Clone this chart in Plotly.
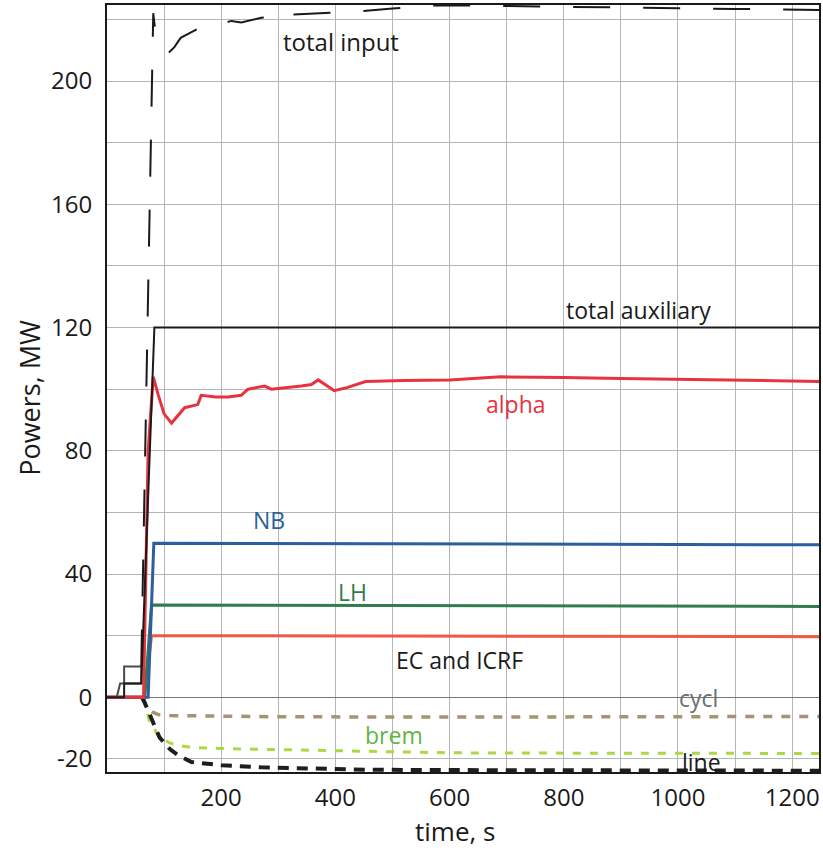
import plotly.graph_objects as go

# ---------------- data ----------------
# start-up staircase (solid dark grey)
t_stairs = [0, 17, 23, 30, 30, 60, 60, 30, 30]
p_stairs = [0, 0, 4.5, 4.5, 10, 10, 4.5, 4.5, 10]

# total input (long-dashed black)
t_input = [60, 70, 81, 86, 96, 107, 118, 129, 160, 180, 200, 218, 235, 270, 290, 310, 320,
           375, 436, 500, 565, 632, 700, 800, 900, 1000, 1100, 1247]
p_input = [10, 110, 222, 214, 210, 209, 211, 214, 217, 219, 218.5, 219.5, 219, 220.5, 221, 223, 221.5,
           222, 222.5, 223.5, 224.5, 224.5, 224.3, 224, 223.8, 223.6, 223.4, 223]

# total auxiliary (solid black)
t_aux = [0, 30, 30, 60, 83, 1247]
p_aux = [0, 0, 4.5, 4.5, 120, 120]

# alpha (red)
t_alpha = [0, 64, 72, 81, 90, 100, 113, 136, 159, 165, 190, 212, 235, 247, 276, 288, 340, 358, 370,
           385, 398, 420, 453, 520, 600, 690, 760, 800, 900, 1000, 1100, 1247]
p_alpha = [0, 0, 80, 104, 98, 92, 89, 94, 95, 98, 97.5, 97.5, 98, 100, 101, 100, 101, 101.5, 103,
           101, 99.5, 100.5, 102.5, 102.8, 103, 104, 104, 103.8, 103.5, 103.2, 102.9, 102.5]

# NB (blue)
t_nb = [0, 72, 82, 1247]
p_nb = [0, 0, 50, 49.5]

# LH (green)
t_lh = [0, 66, 78, 1247]
p_lh = [0, 0, 30, 29.5]

# EC and ICRF (orange-red)
t_ec = [0, 65, 78, 1247]
p_ec = [0, 0, 20, 19.7]

# cyclotron (tan dashed)
t_cycl = [60, 70, 80, 90, 110, 150, 300, 600, 900, 1247]
p_cycl = [0, -3, -4.8, -5.6, -5.9, -6.0, -6.3, -6.4, -6.3, -6.2]

# bremsstrahlung (light-green dashed)
t_brem = [64, 74, 92, 110, 125, 148, 200, 300, 450, 600, 800, 1000, 1247]
p_brem = [0, -7.5, -13, -14.8, -15.6, -16.3, -16.6, -17.0, -17.5, -18.0, -18.1, -18.2, -18.2]

# line radiation (black dashed)
t_line = [62, 75, 92, 110, 125, 148, 200, 270, 340, 460, 600, 800, 1000, 1247]
p_line = [0, -6, -13, -16.8, -18.8, -21, -22, -22.7, -23, -23.5, -23.6, -23.7, -23.7, -23.8]

x_ticks = [200, 400, 600, 800, 1000, 1200]
x_ticktext = ["200", "400", "600", "800", "1000", "1200"]
y_ticks = [-20, 0, 40, 80, 120, 160, 200]
y_ticktext = ["-20", "0", "40", "80", "120", "160", "200"]
y_minor = [20, 60, 100, 140, 180, 220]

FONT = "Open Sans"

fig = go.Figure()

def add(t, p, color, width, dash="solid"):
    fig.add_trace(go.Scatter(x=t, y=p, mode="lines",
                             line=dict(color=color, width=width, dash=dash),
                             showlegend=False, hoverinfo="skip"))

add(t_cycl, p_cycl, "#a39574", 3.5, "9px,9px")
add(t_brem, p_brem, "#abd843", 3, "8px,9px")
add(t_line, p_line, "#1e1e1e", 4, "11px,8px")
add(t_stairs, p_stairs, "#4a4a4a", 2)
add(t_ec, p_ec, "#ef5a45", 3)
add(t_lh, p_lh, "#2f7d4e", 3)
add(t_nb, p_nb, "#2b5f9e", 3)
add(t_alpha, p_alpha, "#e8333f", 3)
add(t_aux, p_aux, "#1a1a1a", 2)
add(t_input, p_input, "#1a1a1a", 2, "37px,33px")

labels = [
    ("total input", 305, 212.7, "#1a1a1a", 24),
    ("total auxiliary", 800, 125.6, "#1a1a1a", 23),
    ("alpha", 660, 95.1, "#e8333f", 23),
    ("NB", 252, 57.5, "#2b5f9e", 23),
    ("LH", 401, 34.1, "#2f7d4e", 23),
    ("EC and ICRF", 502, 12.0, "#1a1a1a", 23),
    ("cycl", 999, -0.3, "#6e6e6e", 23),
    ("brem", 448, -12.3, "#5cb843", 23),
    ("line", 1004, -21.1, "#1a1a1a", 23),
]
for txt, x, y, c, s in labels:
    fig.add_annotation(x=x, y=y, text=txt, showarrow=False, xanchor="left", yanchor="middle",
                       font=dict(family=FONT, size=s, color=c))

# axis titles
fig.add_annotation(x=0.489, y=-0.0765, xref="paper", yref="paper", text="time, s", showarrow=False,
                   xanchor="center", yanchor="middle", font=dict(family=FONT, size=26, color="#1a1a1a"))
fig.add_annotation(x=-0.108, y=0.488, xref="paper", yref="paper", text="Powers, MW", showarrow=False,
                   textangle=-90, xanchor="center", yanchor="middle",
                   font=dict(family=FONT, size=27, color="#1a1a1a"))

grid = "#b5b5b5"
fig.update_layout(
    width=823, height=850,
    margin=dict(l=107, r=4, t=5, b=78, autoexpand=False),
    paper_bgcolor="white", plot_bgcolor="white",
    font=dict(family=FONT, color="#1a1a1a"),
    xaxis=dict(range=[0, 1247], tickvals=x_ticks, ticktext=x_ticktext, automargin=False,
               showgrid=True, gridcolor=grid, gridwidth=1,
               minor=dict(dtick=100, tick0=0, showgrid=True, gridcolor=grid, gridwidth=1),
               showline=True, mirror=True, linecolor="#1a1a1a", linewidth=2, zeroline=False,
               ticks="", tickfont=dict(size=24, family=FONT), ticklabelstandoff=3),
    yaxis=dict(range=[-24.22, 224.66], tickvals=y_ticks, ticktext=y_ticktext, automargin=False,
               showgrid=True, gridcolor=grid, gridwidth=1,
               minor=dict(tickvals=y_minor, showgrid=True, gridcolor=grid, gridwidth=1),
               showline=True, mirror=True, linecolor="#1a1a1a", linewidth=2,
               zeroline=True, zerolinecolor="#777777", zerolinewidth=1,
               ticks="", tickfont=dict(size=24, family=FONT), ticklabelstandoff=8),
)

fig.write_html("out.html", config={"displayModeBar": False},
               post_script="document.body.style.margin='0';document.body.style.overflow='hidden';")
